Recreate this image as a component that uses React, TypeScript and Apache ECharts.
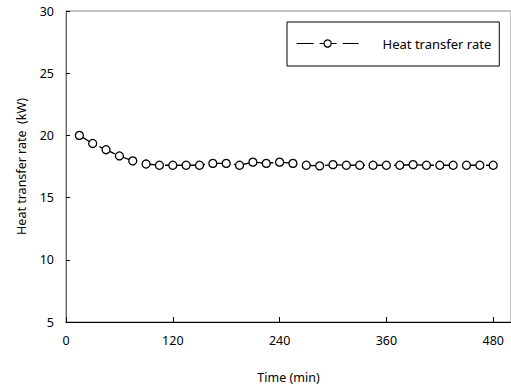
import React, { useEffect, useRef } from "react";
import * as echarts from "echarts";

const times = [15, 30, 45, 60, 75, 90, 105, 120, 135, 150, 165, 180, 195, 210, 225, 240, 255, 270, 285, 300, 315, 330, 345, 360, 375, 390, 405, 420, 435, 450, 465, 480];
const heatRate = [20.0, 19.35, 18.85, 18.35, 17.95, 17.7, 17.6, 17.6, 17.6, 17.6, 17.75, 17.75, 17.6, 17.85, 17.75, 17.85, 17.75, 17.6, 17.55, 17.65, 17.6, 17.6, 17.6, 17.6, 17.6, 17.65, 17.6, 17.6, 17.6, 17.6, 17.6, 17.6];
const seriesName = "Heat transfer rate";
const xName = "Time (min)";
const yName = "Heat transfer rate  (kW)";

export default function App() {
  const ref = useRef<HTMLDivElement>(null);
  useEffect(() => {
    if (!ref.current) return;
    const chart = echarts.init(ref.current, null, { renderer: "svg" });
    const font = "Noto Sans";
    chart.setOption({
      animation: false,
      textStyle: { fontFamily: font },
      grid: { left: 66, top: 11, right: -2, bottom: 66, show: true, borderColor: "#888", borderWidth: 1 },
      legend: {
        left: 287,
        top: 22,
        width: 215,
        padding: [15, 8, 16, 9],
        borderColor: "#000",
        borderWidth: 1,
        itemWidth: 62,
        itemHeight: 9,
        data: [seriesName],
        lineStyle: { width: 1.2, type: [17, 6] },
        itemStyle: { borderWidth: 1.2 },
        textStyle: { fontFamily: font, fontSize: 13, color: "#000", padding: [0, 0, 0, 19] },
      },
      xAxis: {
        type: "value",
        min: 0,
        max: 500,
        interval: 120,
        name: xName,
        nameLocation: "middle",
        nameGap: 49,
        nameTextStyle: { fontFamily: font, fontSize: 12.5, color: "#000" },
        axisLine: { lineStyle: { color: "#000", width: 1 } },
        axisTick: { inside: true, length: 5, lineStyle: { color: "#000" } },
        axisLabel: { fontFamily: font, fontSize: 12.5, color: "#000", margin: 12, showMaxLabel: false },
        splitLine: { show: false },
      },
      yAxis: {
        type: "value",
        min: 5,
        max: 30,
        interval: 5,
        name: yName,
        nameLocation: "middle",
        nameGap: 38,
        nameTextStyle: { fontFamily: font, fontSize: 12.5, color: "#000" },
        axisLine: { lineStyle: { color: "#666", width: 1 } },
        axisTick: { inside: true, length: 4, lineStyle: { color: "#000" } },
        axisLabel: { fontFamily: font, fontSize: 12.5, color: "#000", margin: 12 },
        splitLine: { show: false },
      },
      series: [
        {
          name: seriesName,
          type: "line",
          data: times.map((t, i) => [t, heatRate[i]]),
          symbol: "circle",
          symbolSize: 8,
          itemStyle: { color: "#fff", borderColor: "#000", borderWidth: 1.3 },
          lineStyle: { color: "#000", width: 1.3, type: [17, 6] },
        },
      ],
    });
    return () => chart.dispose();
  }, []);
  return <div ref={ref} style={{ width: 511, height: 389, position: "absolute", left: 0, top: 0 }} />;
}
